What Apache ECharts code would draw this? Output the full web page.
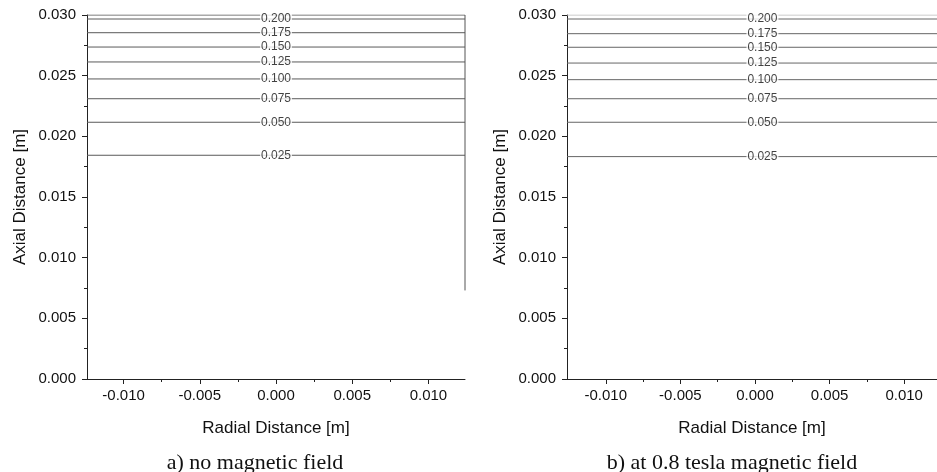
<html>
<head>
    <meta charset="utf-8">
    <title>Contours</title>
    <script src="https://cdn.jsdelivr.net/npm/echarts@6/dist/echarts.min.js"></script>
</head>
<body style="margin:0">
<div id="main" style="width: 937px;height:472px;"></div>
<script type="text/javascript">
// contour levels and the heights (m) where each line sits
var levels = ['0.200', '0.175', '0.150', '0.125', '0.100', '0.075', '0.050', '0.025'];
var heightsA = [0.02967, 0.02854, 0.02736, 0.02613, 0.02473, 0.02310, 0.02116, 0.01844];
var heightsB = [0.02967, 0.02846, 0.02734, 0.02604, 0.02467, 0.02310, 0.02116, 0.01833];
var xTicks = [-0.010, -0.005, 0.000, 0.005, 0.010];
var xMinor = [-0.0075, -0.0025, 0.0025, 0.0075];
var rangeA = [-0.0124, 0.0124];
var rangeB = [-0.0126, 0.0122];
// outline of the domain in plot a (top edge, right wall)
var boundaryA = [[-0.0124, 0.030], [0.0124, 0.030], [0.0124, 0.0073]];
var boundaryB = [[-0.0126, 0.030], [0.0122, 0.030]];

var font = 'Liberation Sans, Arial, sans-serif';
var chart = echarts.init(document.getElementById('main'));

function xAxes(gi, range) {
    return [{
        gridIndex: gi, type: 'value', min: range[0], max: range[1],
        name: 'Radial Distance [m]', nameLocation: 'middle', nameGap: 41,
        nameTextStyle: {fontFamily: font, fontSize: 17, color: '#111'},
        axisLine: {show: true, onZero: false, lineStyle: {color: '#222', width: 1}},
        axisTick: {show: true, length: 5, customValues: xTicks, lineStyle: {color: '#222'}},
        axisLabel: {customValues: xTicks, margin: 9, fontFamily: font, fontSize: 15, color: '#111',
            formatter: function (v) { return v.toFixed(3); }},
        splitLine: {show: false}
    }, {
        gridIndex: gi, type: 'value', min: range[0], max: range[1], position: 'bottom',
        axisLine: {show: false, onZero: false},
        axisTick: {show: true, length: 3, customValues: xMinor, lineStyle: {color: '#222'}},
        axisLabel: {show: false},
        splitLine: {show: false}
    }];
}

function yAxis(gi) {
    return {
        gridIndex: gi, type: 'value', min: 0, max: 0.030, interval: 0.005,
        name: 'Axial Distance [m]', nameLocation: 'middle', nameGap: 58,
        nameTextStyle: {fontFamily: font, fontSize: 17, color: '#111'},
        axisLine: {show: true, onZero: false, lineStyle: {color: '#222', width: 1}},
        axisTick: {show: true, length: 5, lineStyle: {color: '#222'}},
        minorTick: {show: true, splitNumber: 2, length: 3, lineStyle: {color: '#222'}},
        axisLabel: {margin: 11, fontFamily: font, fontSize: 15, color: '#111',
            formatter: function (v) { return v.toFixed(3); }},
        splitLine: {show: false}
    };
}

function contourSeries(xi, yi, range, heights, labelX, color) {
    var out = [];
    heights.forEach(function (h) {
        out.push({
            type: 'line', xAxisIndex: xi, yAxisIndex: yi, symbol: 'none', silent: true,
            lineStyle: {color: color, width: 1}, z: 2,
            data: [[range[0], h], [range[1], h]]
        });
    });
    out.push({
        type: 'scatter', xAxisIndex: xi, yAxisIndex: yi, symbolSize: 1, silent: true,
        itemStyle: {color: 'rgba(0,0,0,0)'}, z: 5,
        label: {show: true, position: 'inside', fontFamily: font, fontSize: 12, color: '#111',
            backgroundColor: '#fff', padding: [0, 1], lineHeight: 12,
            formatter: function (p) { return p.value[2]; }},
        data: heights.map(function (h, i) { return [labelX, h, levels[i]]; })
    });
    return out;
}

var series = []
    .concat(contourSeries(0, 0, rangeA, heightsA, 0, '#5a5a5a'))
    .concat(contourSeries(2, 1, rangeB, heightsB, 0.0005, '#666'));
series.push({type: 'line', xAxisIndex: 0, yAxisIndex: 0, symbol: 'none', silent: true,
    lineStyle: {color: '#555', width: 1}, data: boundaryA});
series.push({type: 'line', xAxisIndex: 2, yAxisIndex: 1, symbol: 'none', silent: true,
    lineStyle: {color: '#bbb', width: 1}, data: boundaryB});

option = {
    animation: false,
    backgroundColor: '#fff',
    grid: [
        {left: 87, top: 15, width: 378, height: 364},
        {left: 567, top: 15, width: 370, height: 364}
    ],
    xAxis: xAxes(0, rangeA).concat(xAxes(1, rangeB)),
    yAxis: [yAxis(0), yAxis(1)],
    graphic: [
        {type: 'text', x: 255, y: 463, style: {text: 'a) no magnetic field', fontFamily: 'Liberation Serif, Times New Roman, serif',
            fontSize: 22, fill: '#111', textAlign: 'center', textVerticalAlign: 'middle'}},
        {type: 'text', x: 732, y: 463, style: {text: 'b) at 0.8 tesla magnetic field', fontFamily: 'Liberation Serif, Times New Roman, serif',
            fontSize: 22, fill: '#111', textAlign: 'center', textVerticalAlign: 'middle'}}
    ],
    series: series
};
chart.setOption(option);
</script>
</body>
</html>
